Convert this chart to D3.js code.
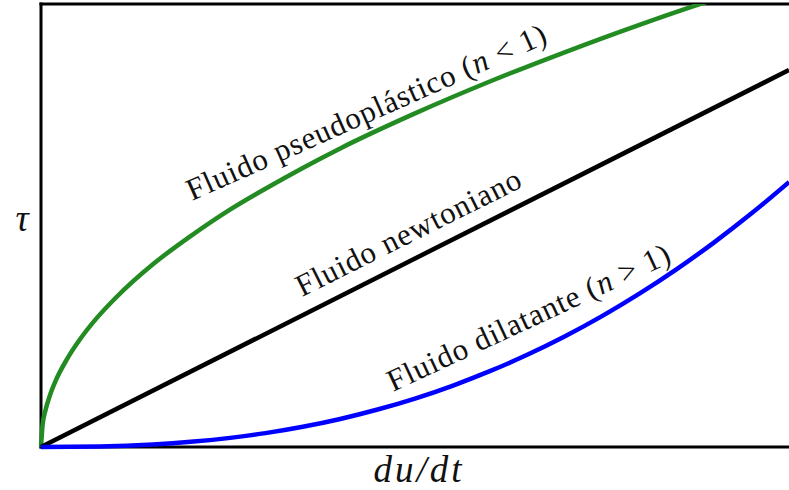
<!DOCTYPE html>
<html>
<head>
<meta charset="utf-8">
<script src="https://cdn.jsdelivr.net/npm/d3@7"></script>
<style>
  html, body { margin: 0; padding: 0; background: #fff; }
  svg { display: block; }
  text { font-family: "Liberation Serif", "DejaVu Serif", serif; fill: #111; }
</style>
</head>
<body>
<svg id="chart" width="789" height="490"></svg>
<script>
// Shear rate (du/dt) and shear stress (tau), arbitrary units
const newtonianX = [0, 10];
const newtonianY = [0, 8.51];

const pseudoX = [0, 0.02, 0.06, 0.12, 0.2, 0.35, 0.5, 0.75, 1.0, 1.5, 2.0, 2.5, 3.0, 3.5, 4.0, 5.0, 6.0, 7.0, 8.0, 8.9, 9.1];
const pseudoY = [0, 0.48, 0.83, 1.17, 1.51, 1.99, 2.38, 2.92, 3.37, 4.13, 4.76, 5.33, 5.83, 6.30, 6.74, 7.53, 8.25, 8.91, 9.53, 10.05, 10.16];

const dilatX = [0, 0.79, 1.5, 2.0, 2.5, 3.0, 3.5, 4.0, 4.5, 5.0, 5.5, 6.0, 6.5, 7.0, 7.5, 8.0, 8.5, 9.0, 9.5, 10];
const dilatY = [0, 0.012, 0.057, 0.116, 0.200, 0.313, 0.457, 0.633, 0.846, 1.094, 1.382, 1.711, 2.081, 2.495, 2.955, 3.462, 4.016, 4.620, 5.274, 5.98];

const curveLabels = ["Fluido pseudoplástico", "Fluido newtoniano", "Fluido dilatante"];
const xLabel = "du/dt";
const yLabel = "τ";

const svg = d3.select("#chart");
const plotLeft = 41, plotRight = 789, plotTop = 4, plotBottom = 447;

const x = d3.scaleLinear().domain([0, 10]).range([plotLeft, plotRight]);
const y = d3.scaleLinear().domain([0, 10]).range([plotBottom, plotTop]);

// clip region for curves
svg.append("defs").append("clipPath").attr("id", "plot-clip")
  .append("rect").attr("x", plotLeft - 3).attr("y", plotTop)
  .attr("width", plotRight - plotLeft + 10).attr("height", plotBottom - plotTop + 4);

// frame
const frame = svg.append("g").attr("stroke", "#000").attr("stroke-width", 3).attr("fill", "none");
frame.append("line").attr("x1", plotLeft).attr("x2", plotLeft).attr("y1", plotTop - 1.5).attr("y2", plotBottom + 1.5);
frame.append("line").attr("x1", plotLeft - 1.5).attr("x2", plotRight + 5).attr("y1", plotTop).attr("y2", plotTop);
frame.append("line").attr("x1", plotLeft - 1.5).attr("x2", plotRight + 5).attr("y1", plotBottom).attr("y2", plotBottom);

const line = d3.line().x(d => x(d[0])).y(d => y(d[1])).curve(d3.curveMonotoneX);
const series = [
  { xs: pseudoX, ys: pseudoY, color: "#228b22" },
  { xs: newtonianX, ys: newtonianY, color: "#000000" },
  { xs: dilatX, ys: dilatY, color: "#0000ff" }
];

const lines = svg.append("g").attr("clip-path", "url(#plot-clip)");
series.forEach(s => {
  lines.append("path")
    .datum(s.xs.map((v, i) => [v, s.ys[i]]))
    .attr("d", line)
    .attr("fill", "none")
    .attr("stroke", s.color)
    .attr("stroke-width", 4.5)
    .attr("stroke-linecap", "butt");
});

// rotated curve annotations
function annotate(px, py, angle, label, math) {
  const t = svg.append("text")
    .attr("transform", `translate(${px},${py}) rotate(${angle})`)
    .attr("font-size", 31)
    .attr("letter-spacing", 0.9);
  t.append("tspan").text(label);
  if (math) {
    t.append("tspan").text(" (");
    t.append("tspan").attr("font-style", "italic").text("n");
    t.append("tspan").text(" " + math[0] + " " + math[1] + ")");
  }
}
annotate(192, 201, -24, curveLabels[0], ["<", "1"]);
annotate(302, 297, -26.5, curveLabels[1], null);
annotate(393, 392, -25, curveLabels[2], [">", "1"]);

// axis titles
svg.append("text").attr("x", 419).attr("y", 482).attr("text-anchor", "middle")
  .attr("font-size", 37).attr("font-style", "italic").attr("letter-spacing", 3).text(xLabel);
svg.append("text").attr("x", 22).attr("y", 231).attr("text-anchor", "middle")
  .attr("font-size", 37).attr("font-style", "italic").text(yLabel);
</script>
</body>
</html>
